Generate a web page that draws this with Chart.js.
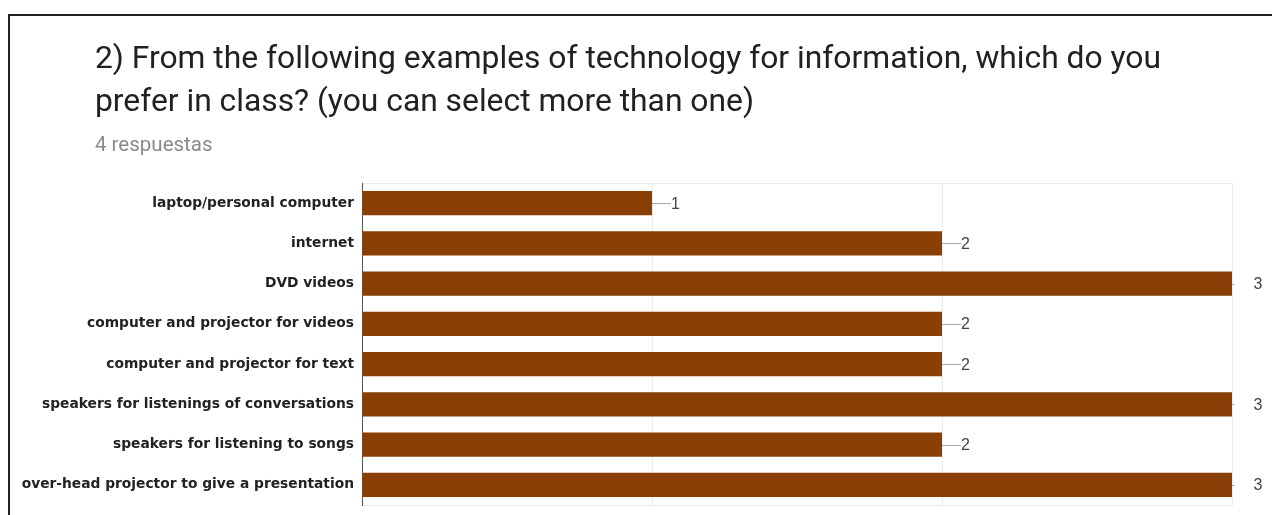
<!DOCTYPE html>
<html>
<head>
<meta charset="utf-8">
<script src="https://cdn.jsdelivr.net/npm/chart.js@4"></script>
<style>
  html, body { margin: 0; padding: 0; background: #fff; }
  #wrap { width: 1272px; height: 515px; }
</style>
</head>
<body>
<div id="wrap"><canvas id="myChart" width="1272" height="515"></canvas></div>
<script>
const categories = [
  "laptop/personal computer",
  "internet",
  "DVD videos",
  "computer and projector for videos",
  "computer and projector for text",
  "speakers for listenings of conversations",
  "speakers for listening to songs",
  "over-head projector to give a presentation",
];
const answers = [1, 2, 3, 2, 2, 3, 2, 3];
const xTicks = [0, 1, 2, 3];
const titleLines = [
  "2) From the following examples of technology for information, which do you",
  "prefer in class? (you can select more than one)",
];
const subtitle = "4 respuestas";

const ctx = document.getElementById("myChart").getContext("2d");

// frame, title and the "—n" labels next to each bar
const decorations = {
  id: "decorations",
  beforeDraw(chart) {
    const c = chart.ctx;
    const area = chart.chartArea;
    c.save();
    c.strokeStyle = "#222";
    c.lineWidth = 2;
    c.beginPath();
    c.moveTo(9, 515);
    c.lineTo(9, 15);
    c.lineTo(1272, 15);
    c.stroke();

    c.fillStyle = "#202124";
    c.font = "31.8px Roboto";
    c.textBaseline = "alphabetic";
    c.fillText(titleLines[0], 95, 68);
    c.fillText(titleLines[1], 95, 111);
    c.fillStyle = "#8a8a8a";
    c.font = "20.5px Roboto";
    c.fillText(subtitle, 95, 151);

    c.strokeStyle = "#ebebeb";
    c.lineWidth = 1;
    c.strokeRect(area.left + 0.5, area.top + 0.5, area.right - area.left, area.bottom - area.top);
    c.restore();
  },
  afterDatasetsDraw(chart) {
    const c = chart.ctx;
    const meta = chart.getDatasetMeta(0);
    const maxVal = Math.max(...answers);
    c.save();
    c.font = "16px Arial";
    c.fillStyle = "#444";
    c.textBaseline = "middle";
    meta.data.forEach((bar, i) => {
      const v = answers[i];
      c.strokeStyle = "#aaa";
      c.lineWidth = 1;
      c.beginPath();
      if (v < maxVal) {
        c.moveTo(bar.x, Math.round(bar.y) + 0.5);
        c.lineTo(bar.x + 19, Math.round(bar.y) + 0.5);
        c.stroke();
        c.textAlign = "left";
        c.fillText(String(v), bar.x + 19, bar.y + 1);
      } else {
        c.moveTo(bar.x, Math.round(bar.y) + 0.5);
        c.lineTo(bar.x + 3, Math.round(bar.y) + 0.5);
        c.stroke();
        c.textAlign = "center";
        c.fillText(String(v), bar.x + 26, bar.y + 1);
      }
    });
    c.restore();
  },
};

new Chart(ctx, {
  type: "bar",
  data: {
    labels: categories,
    datasets: [
      {
        label: subtitle,
        data: answers,
        backgroundColor: "#883e05",
        borderWidth: 0,
        categoryPercentage: 1,
        barPercentage: 0.6,
      },
    ],
  },
  options: {
    indexAxis: "y",
    responsive: false,
    animation: false,
    layout: { padding: { top: 183, right: 40, bottom: 10, left: 0 } },
    plugins: {
      legend: { display: false },
      tooltip: { enabled: false },
    },
    scales: {
      x: {
        min: 0,
        max: 3,
        afterBuildTicks: (scale) => {
          scale.ticks = xTicks.map((v) => ({ value: v }));
        },
        afterFit: (scale) => {
          scale.height = 0;
        },
        ticks: { display: false },
        grid: { color: "#ebebeb", drawTicks: false },
        border: { display: false },
      },
      y: {
        afterFit: (scale) => {
          scale.width = 362;
          scale.paddingTop = 0;
          scale.paddingBottom = 0;
        },
        ticks: {
          color: "#222",
          font: { family: "DejaVu Sans", size: 13.8, weight: "bold" },
          padding: 8,
          autoSkip: false,
        },
        grid: { display: false, drawTicks: false },
        border: { display: true, color: "#555", width: 1 },
      },
    },
  },
  plugins: [decorations],
});
</script>
</body>
</html>
